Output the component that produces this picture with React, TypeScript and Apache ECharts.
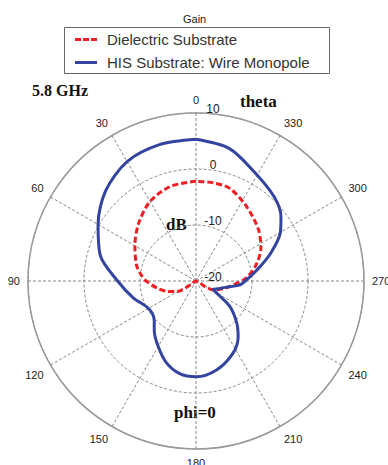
import React, { useEffect, useRef } from "react";
import * as echarts from "echarts";

// Angles (degrees) and gain (dB)
const thetaHIS = [0, 15, 30, 45, 60, 75, 90, 105, 115, 120, 126, 133, 140, 150, 160, 170, 180, 193, 207, 217, 224, 233, 239, 244, 250, 255, 260, 265, 270, 280, 290, 300, 307, 317, 332, 346, 360];
const gainHIS = [5.3, 5.2, 4.6, 2.8, 0.2, -2.3, -6.0, -8.4, -9.8, -10.2, -10.3, -9.8, -8.4, -6.5, -4.5, -3.2, -2.9, -3.7, -5.5, -7.5, -9.5, -12.4, -15.5, -16.6, -15.9, -15.2, -14.0, -12.1, -11.2, -9.0, -5.9, -2.6, -1.0, 0.5, 2.1, 4.4, 5.3];

const thetaDiel = [0, 15, 30, 45, 60, 75, 84, 90, 100, 110, 119, 124, 128, 140, 180, 220, 228, 238, 243, 250, 257, 264, 273, 285, 297, 310, 327, 340, 350, 360];
const gainDiel = [-2.2, -2.5, -3.6, -5.5, -7.4, -9.0, -10.2, -11.1, -12.9, -14.6, -16.1, -18.7, -20, -20, -20, -20, -20, -18.1, -16.5, -15.6, -14.5, -13.3, -11.1, -8.9, -7.0, -5.5, -3.8, -2.4, -2.2, -2.2];

const seriesNames = ["Dielectric Substrate", "HIS Substrate: Wire Monopole"];
const radiusMin = -20;
const radiusMax = 10;
const radiusStep = 10;
const angleStep = 30;

const SANS = "'Liberation Sans', Arial, sans-serif";
const SERIF = "'Liberation Serif', 'Times New Roman', serif";
const RED = "#f01e23";
const BLUE = "#3343a0";

export default function App() {
  const ref = useRef<HTMLDivElement>(null);
  useEffect(() => {
    if (!ref.current) return;
    const chart = echarts.init(ref.current, undefined, { renderer: "svg" });
    const his = thetaHIS.map((t, i) => [gainHIS[i], t]);
    const diel = thetaDiel.map((t, i) => [gainDiel[i], t]);
    chart.setOption({
      animation: false,
      backgroundColor: "#ffffff",
      title: {
        text: "Gain",
        left: 178,
        top: 8,
        textStyle: { fontSize: 11, fontWeight: "normal", color: "#222", fontFamily: SANS },
      },
      legend: {
        orient: "vertical",
        left: 64,
        top: 27,
        padding: [5, 12, 4, 11],
        itemWidth: 22,
        itemHeight: 15,
        itemGap: 8,
        borderWidth: 0,
        textStyle: { fontSize: 15, color: "#333", fontFamily: SANS, padding: [0, 0, 0, 5] },
        data: [
          { name: seriesNames[0], icon: "path://M0,0h6v3h-6z M8,0h6v3h-6z M16,0h6v3h-6z", itemStyle: { color: RED } },
          { name: seriesNames[1], icon: "path://M0,0h22v3h-22z", itemStyle: { color: BLUE } },
        ],
      },
      polar: { center: [196, 281], radius: 168 },
      angleAxis: {
        type: "value",
        min: 0,
        max: 360,
        interval: angleStep,
        startAngle: 90,
        clockwise: false,
        axisLine: { show: true, lineStyle: { color: "#999", width: 1.5 } },
        axisTick: { show: false },
        splitLine: { show: true, lineStyle: { color: "#888", width: 1, type: [3, 2] } },
        axisLabel: {
          margin: 8,
          fontSize: 11,
          color: "#222",
          fontFamily: SANS,
          formatter: (v: number) => (v === 360 ? "" : String(v)),
        },
      },
      radiusAxis: {
        type: "value",
        min: radiusMin,
        max: radiusMax,
        interval: radiusStep,
        axisLine: { show: false },
        axisTick: { show: false },
        splitLine: { show: true, lineStyle: { color: "#888", width: 1, type: [3, 2] } },
        axisLabel: {
          fontSize: 12,
          color: "#222",
          fontFamily: SANS,
          margin: -17,
          align: "center",
          verticalAlign: "bottom",
          lineHeight: 8,
        },
      },
      graphic: [
        {
          type: "rect",
          shape: { x: 64.5, y: 27.5, width: 265, height: 46 },
          style: { fill: "none", stroke: "#666", lineWidth: 1 },
        },
        { type: "text", left: 32, top: 82, style: { text: "5.8 GHz", font: `bold 16px ${SERIF}`, fill: "#111" } },
        { type: "text", left: 240, top: 93, style: { text: "theta", font: `bold 17px ${SERIF}`, fill: "#111" } },
        { type: "text", left: 166, top: 216, style: { text: "dB", font: `bold 17px ${SERIF}`, fill: "#111" } },
        { type: "text", left: 174, top: 404, style: { text: "phi=0", font: `bold 17px ${SERIF}`, fill: "#111" } },
      ],
      series: [
        {
          name: seriesNames[0],
          type: "line",
          coordinateSystem: "polar",
          data: diel,
          symbol: "none",
          smooth: 0.3,
          lineStyle: { color: RED, width: 3, type: [6, 3] },
          itemStyle: { color: RED },
          z: 3,
        },
        {
          name: seriesNames[1],
          type: "line",
          coordinateSystem: "polar",
          data: his,
          symbol: "none",
          smooth: 0.3,
          lineStyle: { color: BLUE, width: 3 },
          itemStyle: { color: BLUE },
          z: 4,
        },
      ],
    });
    return () => chart.dispose();
  }, []);
  return <div ref={ref} style={{ position: "fixed", left: 0, top: 0, width: 388, height: 465 }} />;
}
